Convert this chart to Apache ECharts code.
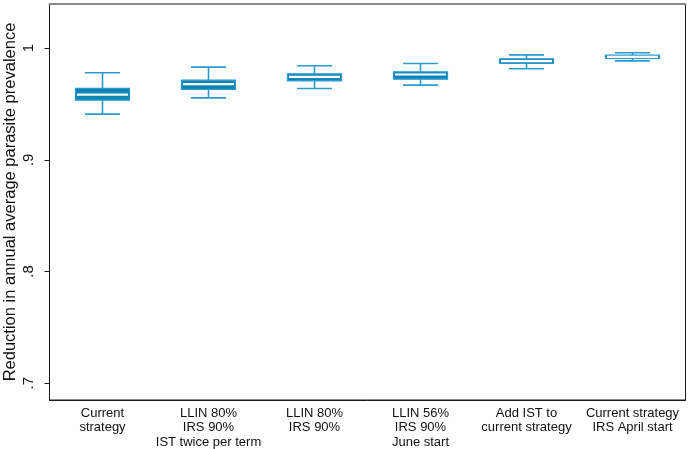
<!DOCTYPE html>
<html>
<head>
<meta charset="utf-8">
<script src="https://cdn.jsdelivr.net/npm/echarts@6/dist/echarts.min.js"></script>
<style>html,body{margin:0;padding:0;background:#fff}#c{width:691px;height:449px}</style>
</head>
<body>
<div id="c"></div>
<script>
var categories = ['Current\nstrategy', 'LLIN 80%\nIRS 90%\nIST twice per term', 'LLIN 80%\nIRS 90%', 'LLIN 56%\nIRS 90%\nJune start', 'Add IST to\ncurrent strategy', 'Current strategy\nIRS April start'];
var lowerWhisker = [0.9409, 0.9555, 0.9639, 0.9669, 0.9815, 0.9886];
var q1 = [0.9534, 0.9630, 0.9707, 0.9722, 0.9863, 0.9908];
var median = [0.9583, 0.9678, 0.9743, 0.9764, 0.9884, 0.9922];
var q3 = [0.9639, 0.9713, 0.9770, 0.9788, 0.9904, 0.9937];
var upperWhisker = [0.9779, 0.9830, 0.9842, 0.9863, 0.9940, 0.9958];
var yTickValues = [0.7, 0.8, 0.9, 1];
var yTickLabels = ['.7', '.8', '.9', '1'];

var data = categories.map(function (c, i) {
  return [i, lowerWhisker[i], q1[i], median[i], q3[i], upperWhisker[i]];
});

var lineColor = '#2a9bcc';
var fillColor = '#0d84b6';

function renderItem(params, api) {
  var x = api.value(0);
  var pLo = api.coord([x, api.value(1)]);
  var pQ1 = api.coord([x, api.value(2)]);
  var pMed = api.coord([x, api.value(3)]);
  var pQ3 = api.coord([x, api.value(4)]);
  var pHi = api.coord([x, api.value(5)]);
  var band = api.size([1, 0])[0];
  var bw = band * 0.51;
  var cw = band * 0.33;
  var cx = pQ1[0];
  var lw = 1.6;
  return {
    type: 'group',
    children: [
      { type: 'line', shape: { x1: cx, y1: pHi[1], x2: cx, y2: pQ3[1] }, style: { stroke: lineColor, lineWidth: lw } },
      { type: 'line', shape: { x1: cx, y1: pQ1[1], x2: cx, y2: pLo[1] }, style: { stroke: lineColor, lineWidth: lw } },
      { type: 'line', shape: { x1: cx - cw / 2, y1: pHi[1], x2: cx + cw / 2, y2: pHi[1] }, style: { stroke: lineColor, lineWidth: lw } },
      { type: 'line', shape: { x1: cx - cw / 2, y1: pLo[1], x2: cx + cw / 2, y2: pLo[1] }, style: { stroke: lineColor, lineWidth: lw } },
      { type: 'rect', shape: { x: cx - bw / 2, y: pQ3[1], width: bw, height: pQ1[1] - pQ3[1] }, style: { fill: fillColor, stroke: lineColor, lineWidth: 1.2 } },
      { type: 'line', shape: { x1: cx - bw / 2 + 1.5, y1: pMed[1], x2: cx + bw / 2 - 1.5, y2: pMed[1] }, style: { stroke: '#ffffff', lineWidth: 2.2 } }
    ]
  };
}

var chart = echarts.init(document.getElementById('c'), null, { renderer: 'canvas' });
chart.setOption({
  animation: false,
  backgroundColor: '#fff',
  textStyle: { fontFamily: 'Liberation Sans, Arial, sans-serif' },
  grid: { left: 49.5, right: 5.5, top: 4, bottom: 49, show: true, borderColor: '#1a1a1a', borderWidth: 1, containLabel: false, outerBoundsMode: 'none' },
  xAxis: [{
    type: 'category',
    data: categories,
    boundaryGap: true,
    axisLine: { show: true, lineStyle: { color: '#1a1a1a', width: 1 } },
    axisTick: { show: false },
    axisLabel: { color: '#111', fontSize: 13, lineHeight: 14.5, margin: 6, interval: 0, fontFamily: 'Liberation Sans, Arial, sans-serif' },
    splitLine: { show: false }
  }, {
    type: 'category',
    position: 'top',
    data: categories,
    axisLine: { show: true, lineStyle: { color: '#888', width: 2 } },
    axisTick: { show: false },
    axisLabel: { show: false },
    splitLine: { show: false }
  }],
  yAxis: {
    type: 'value',
    min: 0.685,
    max: 1.0395,
    name: 'Reduction in annual average parasite prevalence',
    nameLocation: 'middle',
    nameRotate: 90,
    nameGap: 31,
    nameMoveOverlap: false,
    nameTextStyle: { color: '#111', fontSize: 16.5, fontFamily: 'Liberation Sans, Arial, sans-serif' },
    axisLine: { show: true, lineStyle: { color: '#1a1a1a', width: 1 } },
    axisTick: { show: true, length: 5, inside: false, customValues: yTickValues, lineStyle: { color: '#1a1a1a' } },
    axisLabel: {
      show: true,
      rotate: 90,
      margin: 13,
      color: '#111',
      fontSize: 15,
      customValues: yTickValues,
      formatter: function (v) {
        var i = yTickValues.findIndex(function (t) { return Math.abs(t - v) < 1e-6; });
        return i >= 0 ? yTickLabels[i] : '';
      }
    },
    splitLine: { show: false }
  },
  series: [{
    type: 'custom',
    renderItem: renderItem,
    encode: { x: 0, y: [1, 2, 3, 4, 5] },
    data: data
  }]
});
</script>
</body>
</html>
